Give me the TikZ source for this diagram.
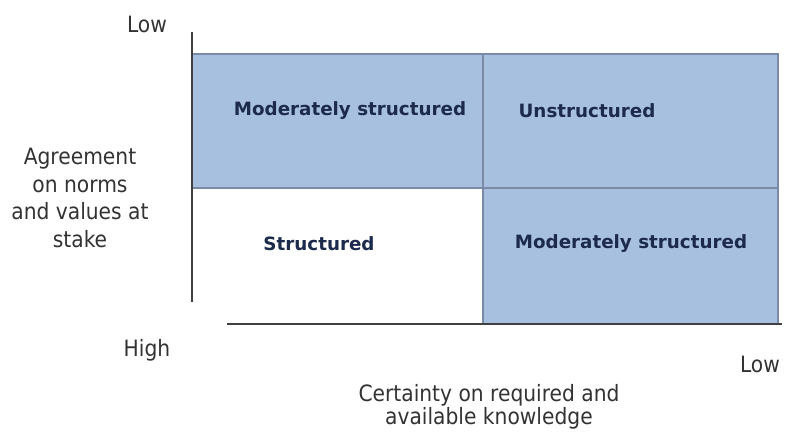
\documentclass[tikz,border=0pt]{standalone}
\usepackage{fontspec}
\setmainfont{DejaVu Sans Condensed}
\newfontfamily\cellfont{DejaVu Sans}
\definecolor{cellfill}{HTML}{A8C0DF}
\definecolor{gridline}{HTML}{7A8AA6}
\definecolor{celltext}{HTML}{1C2A4C}
\definecolor{axistext}{HTML}{333333}
\begin{document}
\begin{tikzpicture}[x=1pt,y=-1pt,
  cell/.style={fill=cellfill,draw=gridline,line width=1.2pt},
  celllabel/.style={font=\cellfont\fontsize{18.3}{21}\selectfont\bfseries,text=celltext,inner sep=0pt},
  axislabel/.style={font=\fontsize{22.5}{27.5}\selectfont,text=axistext,inner sep=0pt,align=center},
  axisline/.style={draw=black!75,line width=2pt}]
\useasboundingbox (0,0) rectangle (785,432);
\fill[white] (0,0) rectangle (785,432);
% cells
\path[cell] (192,54) rectangle (483,188);
\path[cell] (483,54) rectangle (778,188);
\path[cell] (483,188) rectangle (778,324);
\draw[gridline,line width=1.2pt] (483,188) -- (483,324);
% axes
\coordinate (vtop) at (192,32);
\coordinate (vbot) at (192,302);
\coordinate (hleft) at (227,324);
\coordinate (hright) at (782,324);
\draw[axisline] (vtop) -- (vbot);
\draw[axisline] (hleft) -- (hright);
% cell labels
\node[celllabel] (c1) at (350,111) {Moderately structured};
\node[celllabel] (c2) at (587,111) {Unstructured};
\node[celllabel] (c3) at (319,244) {Structured};
\node[celllabel] (c4) at (631,244) {Moderately structured};
% axis labels
\node[axislabel] (ylow) at (147,24) {Low};
\node[axislabel] (yhigh) at (147,350) {High};
\node[axislabel] (ytitle) at (80,198) {Agreement\\on norms\\and values at\\stake};
\node[axislabel] (xlow) at (760,364) {Low};
\node[axislabel,font=\fontsize{22.5}{23.5}\selectfont] (xtitle) at (489,407) {Certainty on required and\\available knowledge};
\end{tikzpicture}
\end{document}
